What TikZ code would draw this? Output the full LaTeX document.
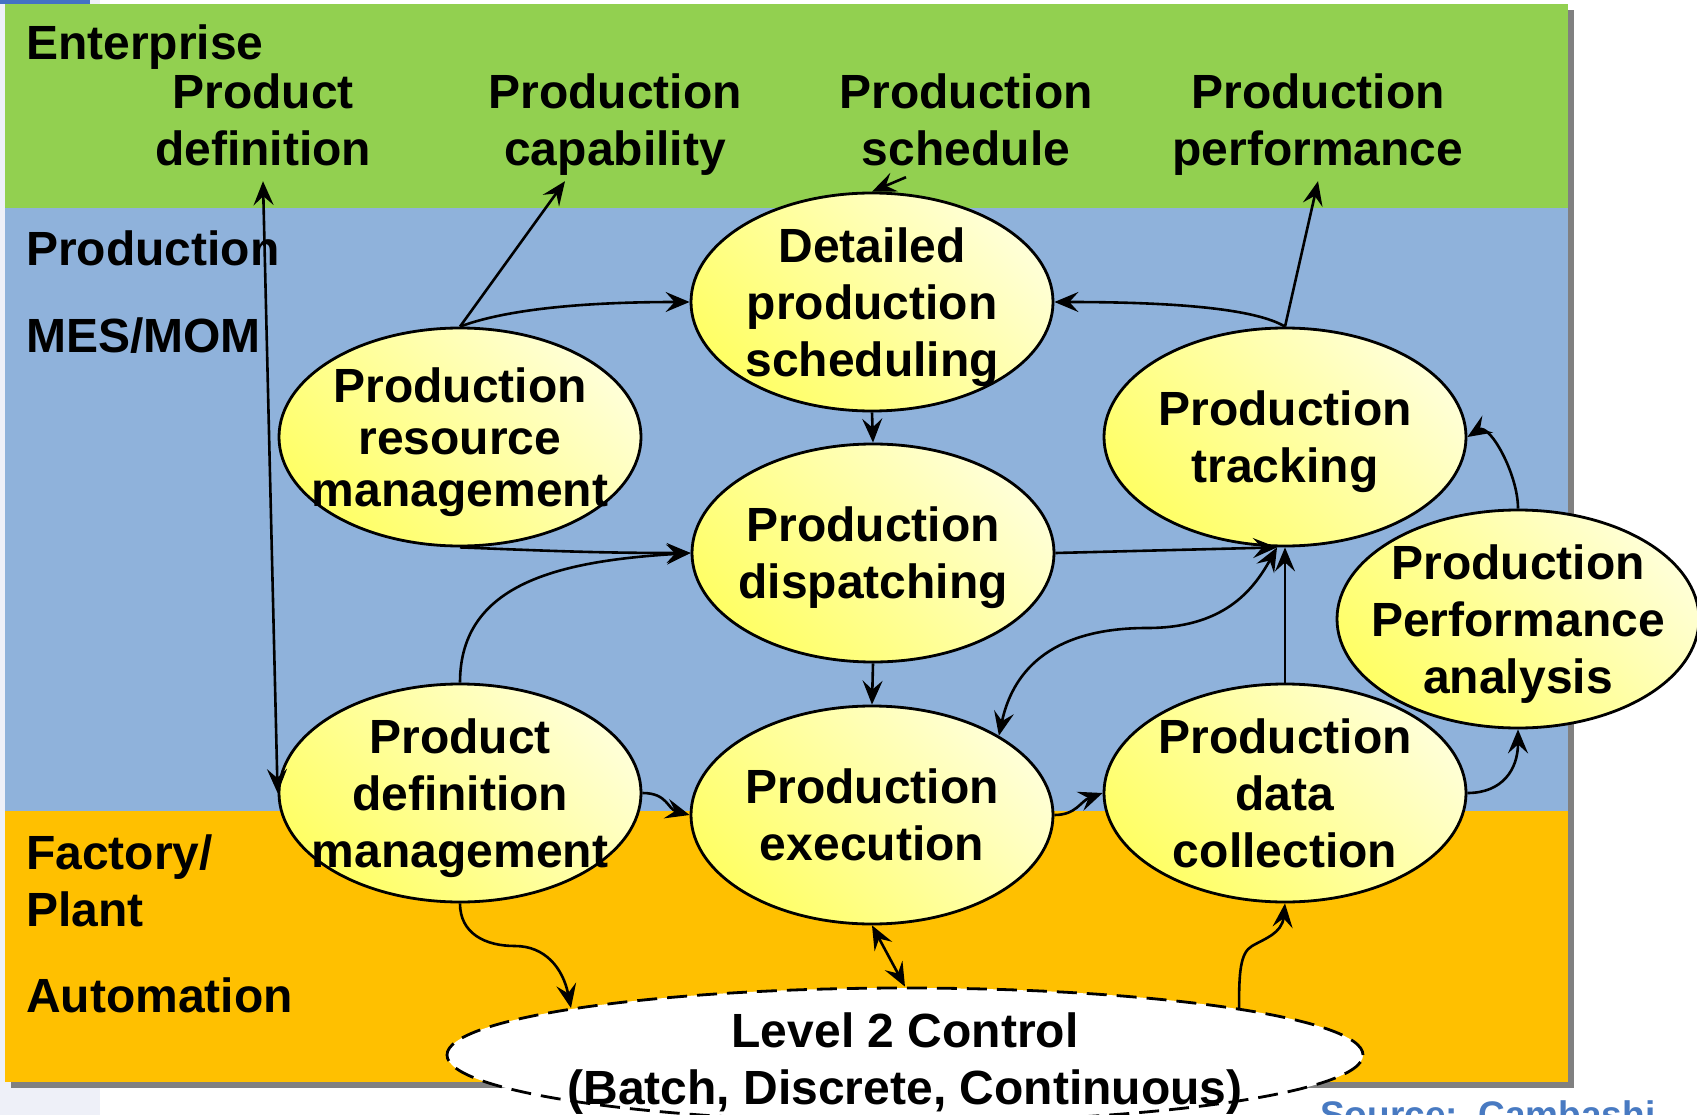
\documentclass[tikz,border=0pt]{standalone}
\usepackage{fontspec}
\setmainfont{Liberation Sans}
\usetikzlibrary{shapes.geometric,arrows.meta}
\definecolor{bgstrip}{RGB}{238,240,248}
\definecolor{topbar}{RGB}{68,114,196}
\definecolor{entgreen}{RGB}{146,208,80}
\definecolor{mesblue}{RGB}{143,178,219}
\definecolor{plantorange}{RGB}{255,192,0}
\definecolor{shadowgray}{RGB}{128,128,128}
\definecolor{ybright}{RGB}{255,255,102}
\definecolor{ypale}{RGB}{255,255,214}
\definecolor{srcblue}{RGB}{72,122,194}
\newcommand\lstrut{\rule[-11.5pt]{0pt}{57pt}}
\begin{document}
\begin{tikzpicture}[x=1pt,y=1pt,
  >={Stealth[length=24pt,width=20pt,inset=9pt]},
  txt/.style={font=\bfseries\fontsize{48}{57}\selectfont, inner sep=0pt, align=center},
  tighttxt/.style={txt, font=\bfseries\fontsize{48}{52}\selectfont},
  ell/.style={ellipse, draw, line width=2.8pt, top color=ybright, bottom color=ypale,
    shading angle=135, minimum width=362pt, minimum height=218pt, inner sep=0pt},
  ctl/.style={ellipse, draw, dashed, dash pattern=on 20pt off 10pt, line width=2.8pt,
    fill=white, minimum width=916pt, minimum height=134pt, inner sep=0pt},
  arr/.style={line width=2.6pt}]
\useasboundingbox (0,0) rectangle (1697,-1115);
\clip (0,0) rectangle (1697,-1115);
% background
\fill[white] (0,0) rectangle (1697,-1115);
\fill[bgstrip] (0,0) rectangle (100,-1115);
\fill[topbar] (0,0) rectangle (90,-4);
\fill[shadowgray] (11,-10) rectangle (1574,-1088);
\fill[entgreen] (5,-4) rectangle (1568,-208);
\fill[mesblue] (5,-208) rectangle (1568,-811);
\fill[plantorange] (5,-811) rectangle (1568,-1082);
% level labels
\node[txt, anchor=west] (ent) at (26,-43) {\lstrut Enterprise\lstrut};
\node[txt, anchor=west] (prodl) at (26,-249) {\lstrut Production\lstrut};
\node[txt, anchor=west] (mes) at (26,-335) {\lstrut MES/MOM\lstrut};
\node[txt, anchor=west, align=left] (fac) at (26,-880.5) {\lstrut Factory/\\Plant\lstrut};
\node[txt, anchor=west] (aut) at (26,-995) {\lstrut Automation\lstrut};
% enterprise information labels
\node[txt] (pdl) at (263,-120) {\lstrut Product\\definition\lstrut};
\node[txt] (pcl) at (615,-120) {\lstrut Production\\capability\lstrut};
\node[txt] (psl) at (966,-120) {\lstrut Production\\schedule\lstrut};
\node[txt] (ppl) at (1318,-120) {\lstrut Production\\performance\lstrut};
% ellipses
\node[ell] (dps) at (872,-302) {};
\node[ell] (prm) at (460,-437) {};
\node[ell] (pdisp) at (873,-553) {};
\node[ell] (pt) at (1285,-437) {};
\node[ell] (ppa) at (1518,-619) {};
\node[ell] (pdm) at (460,-793) {};
\node[ell] (pe) at (872,-815) {};
\node[ell] (pdc) at (1285,-793) {};
\node[ctl] (l2) at (905,-1055) {};
% ellipse texts
\node[txt] (dps-t) at (dps.center) {\lstrut Detailed\\production\\scheduling\lstrut};
\node[tighttxt] (prm-t) at (prm.center) {\lstrut Production\\resource\\management\lstrut};
\node[txt] (pdisp-t) at (pdisp.center) {\lstrut Production\\dispatching\lstrut};
\node[txt] (pt-t) at (pt.center) {\lstrut Production\\tracking\lstrut};
\node[txt] (ppa-t) at (ppa.center) {\lstrut Production\\Performance\\analysis\lstrut};
\node[txt] (pdm-t) at (pdm.center) {\lstrut Product\\definition\\management\lstrut};
\node[txt] (pe-t) at (pe.center) {\lstrut Production\\execution\lstrut};
\node[txt] (pdc-t) at (pdc.center) {\lstrut Production\\data\\collection\lstrut};
\node[txt] (l2-t) at (905,-1059) {\lstrut Level 2 Control\\(Batch, Discrete, Continuous)\lstrut};
% connectors
\draw[arr,<->] ([yshift=-4pt]pdl.south) -- (pdm.west);
\draw[arr,->] (prm.north) -- ([xshift=-50pt,yshift=-4pt]pcl.south);
\draw[arr,->] (prm.north) .. controls +(40,15) and +(-120,0) .. (dps.west);
\draw[arr,->] ([xshift=-60pt]psl.south) -- (dps.north);
\draw[arr,->] (dps.south) -- (pdisp.north);
\draw[arr,->] (prm.south) .. controls +(80,-3) and +(-100,0) .. (pdisp.west);
\draw[arr,->] (pt.north) -- ([yshift=-4pt]ppl.south);
\draw[arr,->] (pt.north) .. controls +(-30,18) and +(120,0) .. (dps.east);
\draw[arr,->] (ppa.north) .. controls +(0,35) and +(22,14) .. (pt.east);
\draw[arr,->] (pdisp.east) -- ([xshift=-8pt]pt.south);
\draw[arr,->] (pdisp.south) -- (pe.north);
\draw[arr,->] (pdm.north) .. controls +(0,100) and +(-130,-8) .. (pdisp.west);
\draw[arr,<->] ([xshift=-8pt]pt.south) .. controls +(-25,-45) and +(75,0) .. (1147,-628)
   .. controls +(-90,0) and +(15,70) .. (pe.32);
\draw[arr,->] (pdc.north) -- (pt.south);
\draw[arr,->] (pdm.east) .. controls +(25,0) and +(-22,6) .. (pe.west);
\draw[arr,->] (pe.east) .. controls +(22,0) and +(-22,-8) .. (pdc.west);
\draw[arr,->] (pdc.east) .. controls +(35,0) and +(0,-40) .. (ppa.south);
\draw[arr,->] (pdm.south) .. controls +(0,-30) and +(-30,0) .. (515,-946)
   .. controls +(30,0) and +(-8,40) .. (l2.172);
\draw[arr,<->] (pe.south) -- (l2.north);
\draw[arr,->] (l2.8) .. controls +(0,35) and +(-12,-7) .. (1252,-946)
   .. controls +(12,7) and +(-3,-30) .. (pdc.south);
% source
\node[font=\bfseries\fontsize{37}{44}\selectfont, text=srcblue, anchor=base west, inner sep=0pt] (src) at (1320,-1127) {Source:\ \ Cambashi};
\end{tikzpicture}
\end{document}
